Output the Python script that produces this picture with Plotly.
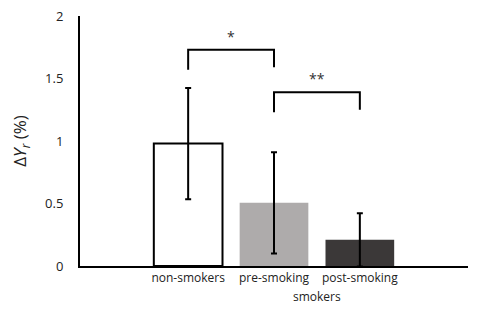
import plotly.graph_objects as go

categories = ["non-smokers", "pre-smoking", "post-smoking"]
values = [0.98, 0.506, 0.21]
errors = [0.445, 0.405, 0.213]
colors = ["#FFFFFF", "#AEABAB", "#3B3838"]
group_label = "smokers"
# significance brackets: (from index, to index, height, label, left leg bottom, right leg bottom)
sig = [(0, 1, 1.73, "*", 1.57, 1.59), (1, 2, 1.39, "**", 1.23, 1.25)]
yticks = [0, 0.5, 1, 1.5, 2]

xs = list(range(len(categories)))
font = "Open Sans"
fig = go.Figure()
fig.add_trace(go.Bar(
    x=xs, y=values, width=0.8,
    marker=dict(color=colors, line=dict(color=["black", "rgba(0,0,0,0)", "rgba(0,0,0,0)"], width=2)),
    error_y=dict(type="data", array=errors, color="black", thickness=2, width=3),
    showlegend=False, hoverinfo="skip",
))

shapes = []
annotations = []
for a, b, h, lab, la, lb in sig:
    shapes.append(dict(type="path", xref="x", yref="y",
                       path=f"M {a},{la} L {a},{h} L {b},{h} L {b},{lb}",
                       line=dict(color="black", width=2)))
    annotations.append(dict(x=(a + b) / 2, y=h, xref="x", yref="y", text=lab,
                            showarrow=False, yanchor="bottom", yshift=2,
                            font=dict(family=font, size=14, color="#333")))
annotations.append(dict(x=1.5, y=0, xref="x", yref="y", text=group_label, showarrow=False,
                        yanchor="top", yshift=-20, font=dict(family=font, size=12, color="#222")))

fig.update_layout(
    width=484, height=312,
    margin=dict(l=80, r=16, t=16, b=46),
    paper_bgcolor="white", plot_bgcolor="white",
    font=dict(family=font, size=12, color="#222"),
    shapes=shapes, annotations=annotations,
    xaxis=dict(range=[-1.26, 3.26], tickvals=xs, ticktext=categories, showgrid=False,
               showline=True, linecolor="black", linewidth=2, ticks="", zeroline=False,
               tickfont=dict(family=font, size=12, color="#222"), automargin=False),
    yaxis=dict(range=[0, 2], tickvals=yticks, ticktext=["0", "0.5", "1", "1.5", "2"],
               showgrid=False, showline=True, linecolor="black", linewidth=2, ticks="",
               zeroline=False, tickfont=dict(family=font, size=13, color="#222"),
               ticklabelstandoff=12, automargin=False,
               title=dict(text="Δ<i>Y</i><sub><i>r</i></sub> (%)",
                          font=dict(family=font, size=17, color="#222"), standoff=14)),
)
fig.write_html("out.html", config={"displayModeBar": False},
               post_script="document.body.style.margin='0';document.body.style.padding='0';")
